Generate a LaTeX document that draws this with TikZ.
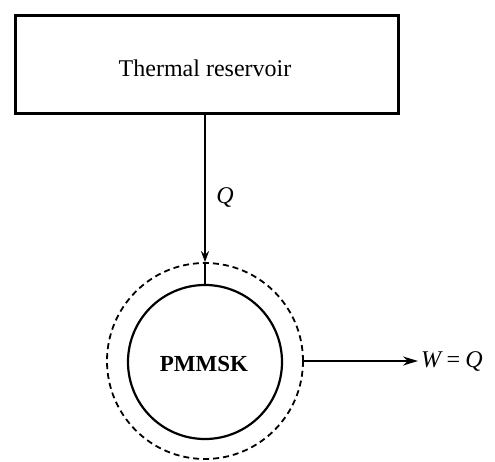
\documentclass[tikz,border=0pt]{standalone}
\usepackage{fontspec}
\setmainfont{Liberation Serif}
\usetikzlibrary{arrows.meta}
\begin{document}
\begin{tikzpicture}[x=1pt,y=-1pt,
  lbl/.style={font=\fontsize{24}{28}\selectfont, inner sep=0pt},
  arr/.style={line width=1.8pt, -{Stealth[length=15pt,width=9pt]}}]
\useasboundingbox (0,0) rectangle (495,462);
\node[draw, line width=2.6pt, minimum width=383pt, minimum height=98pt, anchor=north west, inner sep=0pt] (res) at (14,14) {};
\node[lbl] (rest) at (205,68) {Thermal reservoir};
\node[draw, circle, line width=2.2pt, minimum size=154pt, inner sep=0pt] (eng) at (205,362) {};
\node[draw, circle, dashed, dash pattern=on 6pt off 4pt, line width=1.8pt, minimum size=196pt, inner sep=0pt] (bnd) at (205,361) {};
\node[lbl, font=\fontsize{23}{27}\selectfont\bfseries] (pm) at (204,364) {PMMSK};
\draw[line width=1.8pt, -{Stealth[length=11pt,width=8pt]}] (res.south -| eng.north) -- (bnd.north -| eng.north);
\draw[line width=1.8pt] (bnd.north -| eng.north) -- (eng.north);
\node[lbl, font=\fontsize{24}{28}\selectfont\itshape] (q) at (225,198) {Q};
\coordinate (wend) at (418,361);
\draw[arr] (bnd.east |- 0,361) -- (wend);
\node[lbl, anchor=west, font=\fontsize{24}{28}\selectfont\itshape] (w) at (421,361) {W\,=\,Q};
\end{tikzpicture}
\end{document}
